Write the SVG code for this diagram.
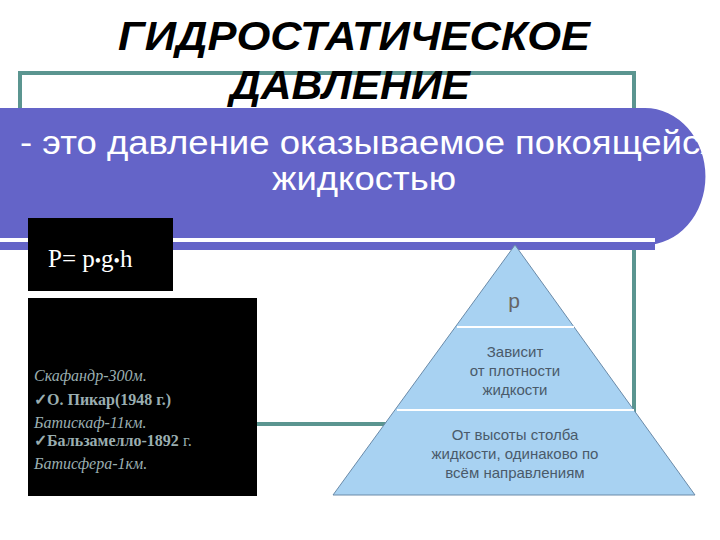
<svg xmlns="http://www.w3.org/2000/svg" width="720" height="540" viewBox="0 0 720 540">
<style>
.t{font-family:"Liberation Sans",Arial,sans-serif}
.s{font-family:"Liberation Serif","Times New Roman",serif}
.py{font-family:"Liberation Sans",Arial,sans-serif;font-size:15px;fill:#4a5a6a;text-anchor:middle}
</style>
<rect width="720" height="540" fill="#fff"/>
<g id="frame"><path d="M20 240 V73 H634 V424 H257" fill="none" stroke="#5b9590" stroke-width="4"/></g>
<g id="title" class="t" font-weight="bold" font-style="italic" font-size="40" text-anchor="middle">
<text x="354" y="50" textLength="472" lengthAdjust="spacingAndGlyphs">ГИДРОСТАТИЧЕСКОЕ</text>
<text x="350" y="99" textLength="240" lengthAdjust="spacingAndGlyphs">ДАВЛЕНИЕ</text>
</g>
<g id="band">
<path d="M0 108 H645 A60 68 0 0 1 645 245 H0 Z" fill="#6464c8"/>
<rect x="0" y="238" width="655" height="4" fill="#fff"/>
<rect x="0" y="242" width="655" height="8" fill="#6464c8"/>
<text class="t" x="20" y="154" font-size="34" fill="#fff" textLength="700" lengthAdjust="spacingAndGlyphs">- это давление оказываемое покоящейся</text>
<text class="t" x="272" y="190" font-size="34" fill="#fff" textLength="184" lengthAdjust="spacingAndGlyphs">жидкостью</text>
</g>
<g id="formula"><rect x="28" y="218" width="145" height="73" fill="#000"/>
<text class="s" x="48" y="267" font-size="25" fill="#fff">P= p<tspan font-size="18">•</tspan>g<tspan font-size="18">•</tspan>h</text></g>
<g id="facts"><rect x="28" y="298" width="229" height="198" fill="#000"/>
<g class="s" font-size="16" fill="#9aaeb0">
<text x="34" y="381" font-style="italic">Скафандр-300м.</text>
<text x="34" y="405" font-weight="bold">✓О. Пикар(1948 г.)</text>
<text x="34" y="428" font-style="italic">Батискаф-11км.</text>
<text x="34" y="446" font-weight="bold">✓Бальзамелло-1892 <tspan font-weight="normal">г.</tspan></text>
<text x="34" y="469" font-style="italic">Батисфера-1км.</text>
</g></g>
<g id="pyramid">
<path d="M515 245 L695 495 H333 Z" fill="#a8d2f2" stroke="#6a8aa8" stroke-width="1"/>
<path d="M457 327 H574 M397 410 H634" stroke="#fff" stroke-width="2"/>
<text class="t" x="514" y="308" font-size="21" fill="#666" text-anchor="middle">p</text>
<text class="py" x="515" y="357">Зависит</text>
<text class="py" x="515" y="376">от плотности</text>
<text class="py" x="515" y="395">жидкости</text>
<text class="py" x="515" y="440">От высоты столба</text>
<text class="py" x="515" y="459">жидкости, одинаково по</text>
<text class="py" x="515" y="478">всём направлениям</text>
</g>
</svg>
